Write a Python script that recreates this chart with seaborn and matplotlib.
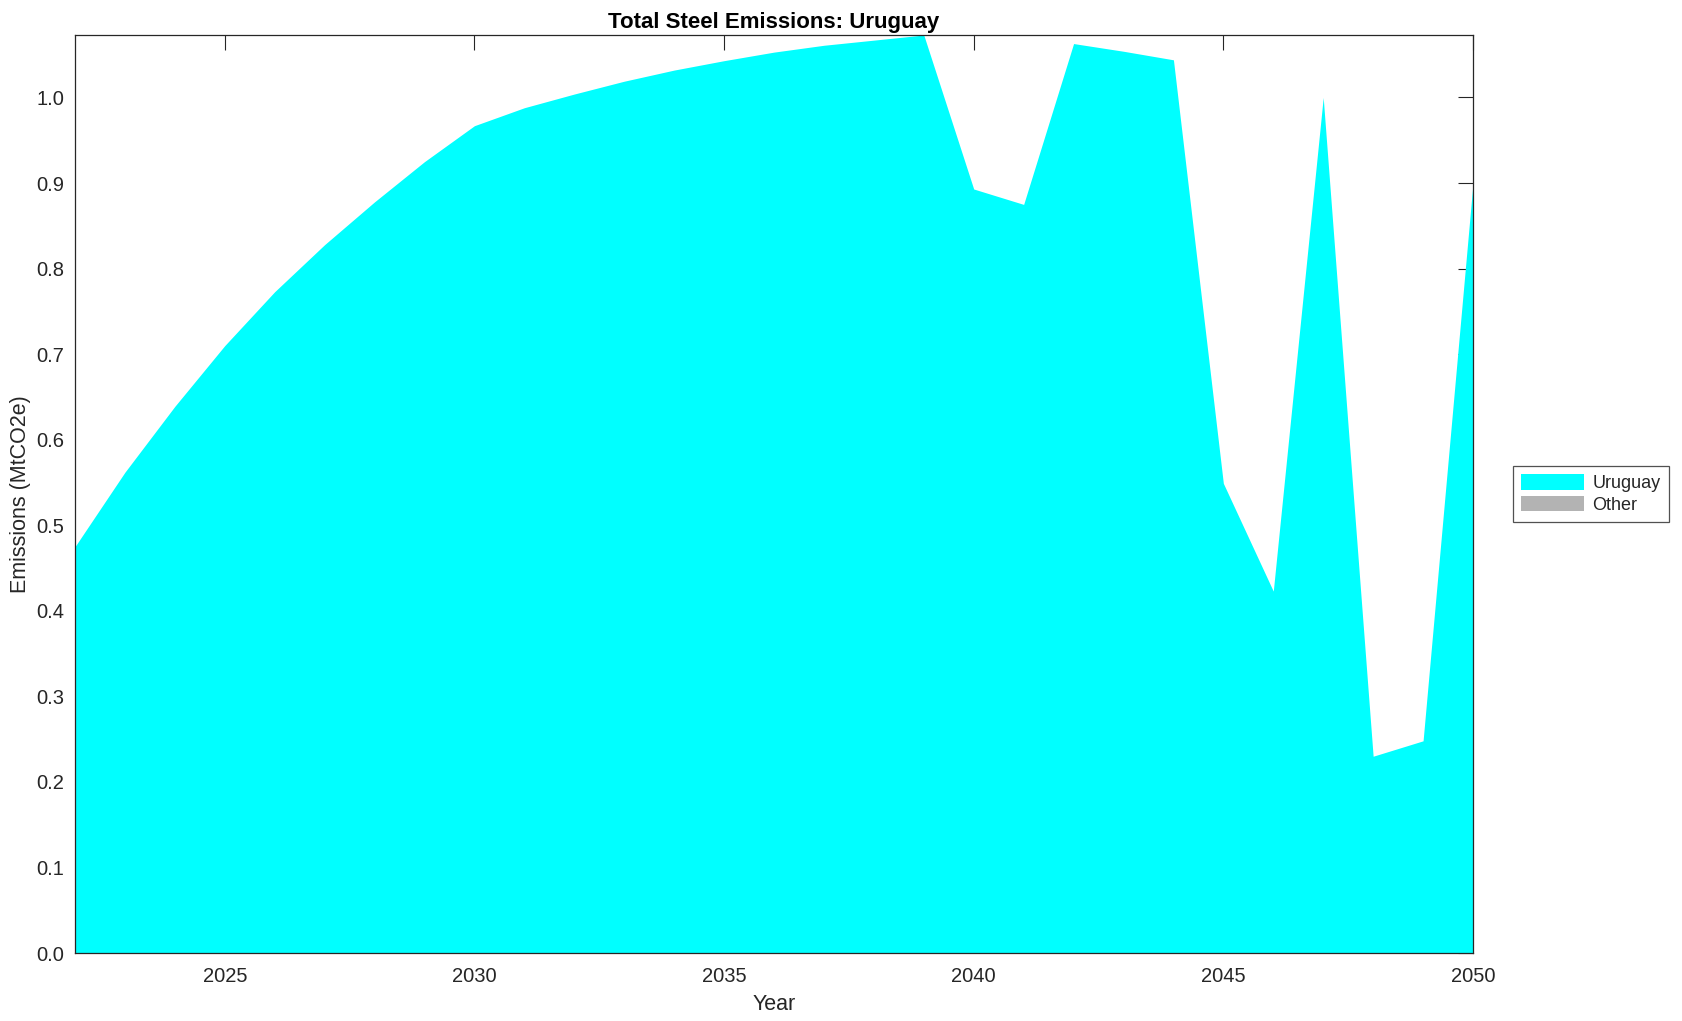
#!/usr/bin/env python3

import numpy as np
import pandas as pd
import seaborn as sns
import matplotlib.pyplot as plt
from matplotlib.patches import Patch

# Values (MtCO2e)
years = list(range(2022, 2051))
uruguay_values = [
    0.475, 0.562, 0.639, 0.710, 0.773, 0.828, 0.878, 0.925, 0.967,  # 2022-2030
    0.988, 1.004, 1.019, 1.032, 1.043, 1.053, 1.061, 1.067, 1.073,  # 2031-2039
    0.893, 0.875, 1.063, 1.054, 1.044, 0.549, 0.423, 1.000, 0.230,  # 2040-2048
    0.248, 0.900,                                                    # 2049-2050
]
other_values = [0.0] * 29

series_names = ['Uruguay', 'Other']
series_colors = ['#00FFFF', '#B3B3B3']

x_ticks = [2025, 2030, 2035, 2040, 2045, 2050]
y_ticks = [0.0, 0.1, 0.2, 0.3, 0.4, 0.5, 0.6, 0.7, 0.8, 0.9, 1.0]


def create_area_chart(df: pd.DataFrame) -> plt.Figure:
    """Stacked area chart in the MATLAB look"""
    sns.set_theme(style='white')
    plt.rcParams['font.family'] = ['Liberation Sans', 'DejaVu Sans']

    fig = plt.figure(figsize=(16.82, 10.21), dpi=100)
    ax = fig.add_axes([75 / 1682, 68 / 1021, 1398 / 1682, 918 / 1021])

    ax.stackplot(df['Year'], df['Uruguay'], df['Other'],
                 colors=series_colors, linewidth=0)

    ax.set_xlim(years[0], years[-1])
    ax.set_ylim(0, df[['Uruguay', 'Other']].sum(axis=1).max())
    ax.set_xticks(x_ticks)
    ax.set_yticks(y_ticks)
    ax.set_yticklabels([f'{v:.1f}' for v in y_ticks])

    ax.tick_params(direction='in', length=10.5, width=0.8, top=True, right=True,
                   labelsize=14.5, colors='#262626')
    ax.tick_params(axis='x', pad=10)
    ax.tick_params(axis='y', pad=8)
    for spine in ax.spines.values():
        spine.set_visible(True)
        spine.set_color('#262626')
        spine.set_linewidth(0.9)

    ax.set_title('Total Steel Emissions: Uruguay', fontsize=16, fontweight='bold',
                 color='black', pad=5)
    ax.set_xlabel('Year', fontsize=15.5, color='#262626', labelpad=6)
    ax.set_ylabel('Emissions (MtCO2e)', fontsize=15.5, color='#262626', labelpad=3.5)

    handles = [Patch(facecolor=c, edgecolor='none') for c in series_colors]
    leg = ax.legend(handles, series_names, loc='center left',
                    bbox_to_anchor=(1.0286, 0.5), borderaxespad=0,
                    fontsize=13, frameon=True, fancybox=False,
                    handlelength=3.5, handleheight=0.95, handletextpad=0.45,
                    labelspacing=0.2, borderpad=0.45)
    leg.get_frame().set_edgecolor('#262626')
    leg.get_frame().set_linewidth(0.9)

    return fig


def main() -> None:
    df = pd.DataFrame({'Year': years, 'Uruguay': uruguay_values, 'Other': other_values})
    fig = create_area_chart(df)
    fig.savefig('out.png', dpi=100)
    plt.close()


if __name__ == "__main__":
    main()
